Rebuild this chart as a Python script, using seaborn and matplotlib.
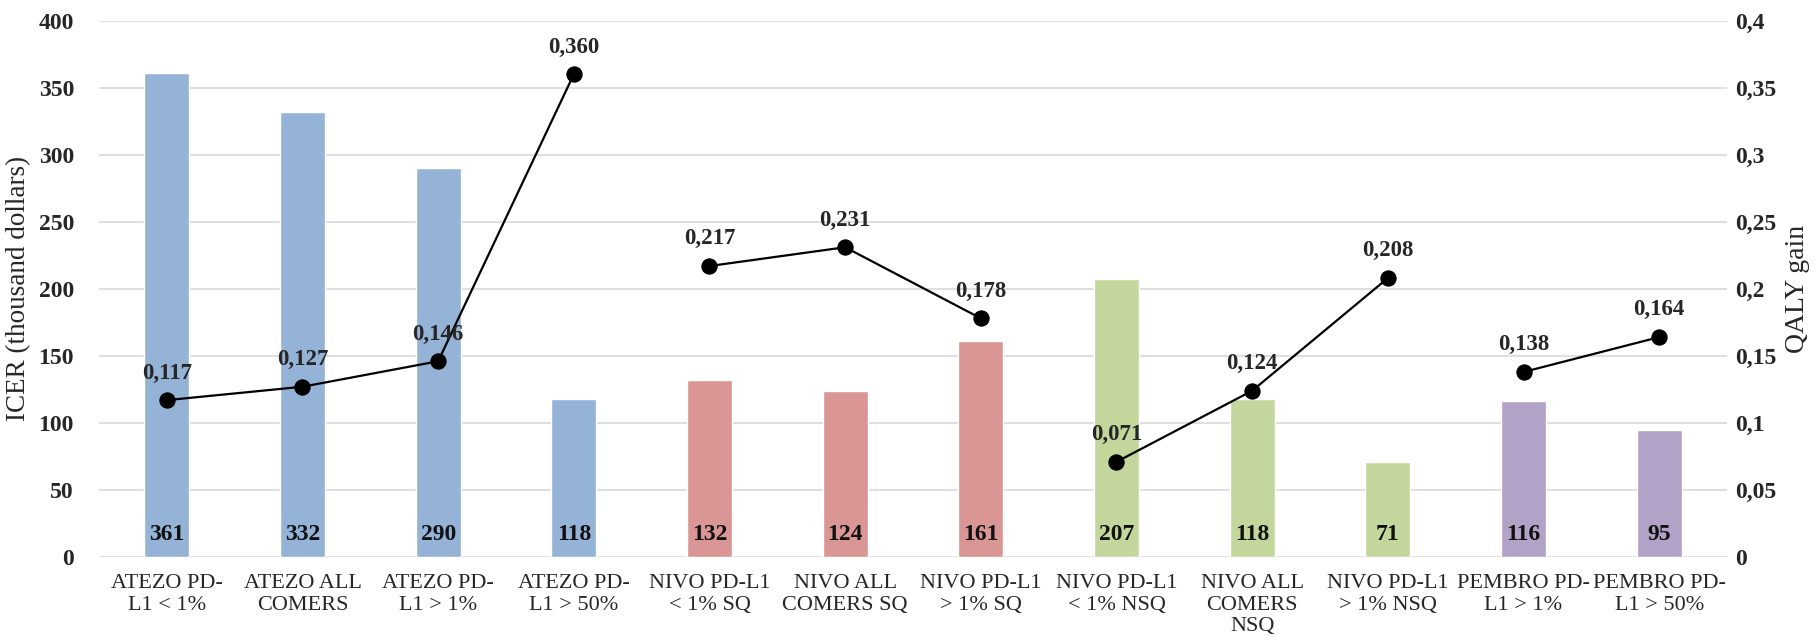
import matplotlib
matplotlib.use("Agg")
import matplotlib.pyplot as plt
import seaborn as sns
import pandas as pd

categories = [
    "ATEZO PD-\nL1 < 1%", "ATEZO ALL\nCOMERS", "ATEZO PD-\nL1 > 1%", "ATEZO PD-\nL1 > 50%",
    "NIVO PD-L1\n< 1% SQ", "NIVO ALL\nCOMERS SQ", "NIVO PD-L1\n> 1% SQ",
    "NIVO PD-L1\n< 1% NSQ", "NIVO ALL\nCOMERS\nNSQ", "NIVO PD-L1\n> 1% NSQ",
    "PEMBRO PD-\nL1 > 1%", "PEMBRO PD-\nL1 > 50%",
]
groups = ["ATEZO"] * 4 + ["NIVO SQ"] * 3 + ["NIVO NSQ"] * 3 + ["PEMBRO"] * 2
icer = [361, 332, 290, 118, 132, 124, 161, 207, 118, 71, 116, 95]
qaly = [0.117, 0.127, 0.146, 0.360, 0.217, 0.231, 0.178, 0.071, 0.124, 0.208, 0.138, 0.164]
group_colors = {"ATEZO": "#95B3D7", "NIVO SQ": "#D99694", "NIVO NSQ": "#C3D69B", "PEMBRO": "#B3A2C7"}

df = pd.DataFrame({"cat": categories, "group": groups, "icer": icer, "qaly": qaly})
df["pos"] = range(len(df))

sns.set_style("white")
plt.rcParams["font.family"] = ["Liberation Serif", "DejaVu Serif"]

fig = plt.figure(figsize=(18.16, 6.44), dpi=100)
ax = fig.add_axes([0.0545, 0.135, 0.8965, 0.833])

sns.barplot(data=df, x="cat", y="icer", hue="group", palette=group_colors,
            dodge=False, width=0.33, legend=False, ax=ax, saturation=1)

ax.set_ylim(0, 400)
ax.set_yticks(range(0, 401, 50))
ax.set_yticklabels([str(v) for v in range(0, 401, 50)], fontsize=17, fontweight="bold")
ax.set_xlim(-0.5, len(categories) - 0.5)
ax.set_xlabel("")
ax.set_ylabel("ICER (thousand dollars)", fontsize=19.5, labelpad=5)
ax.tick_params(axis="x", labelsize=16, length=0, pad=12)
ax.tick_params(axis="y", length=0, pad=18)
ax.yaxis.grid(True, color="#D9D9D9", linewidth=1.2)
ax.set_axisbelow(True)
for s in ax.spines.values():
    s.set_visible(False)

for i, v in enumerate(icer):
    ax.text(i, 17, str(v), ha="center", va="center", fontsize=17, fontweight="bold", color="#111111")

ax2 = ax.twinx()
for g in group_colors:
    sub = df[df["group"] == g]
    sns.lineplot(data=sub, x="pos", y="qaly", ax=ax2, color="black", linewidth=1.6,
                 marker="o", markersize=11, markeredgecolor="black", legend=False)
for i, v in enumerate(qaly):
    ax2.annotate(f"{v:.3f}".replace(".", ","), (i, v), xytext=(0, 12), textcoords="offset points",
                 ha="center", va="bottom", fontsize=16.5, fontweight="bold")

ax2.set_ylim(0, 0.4)
ticks2 = [0, 0.05, 0.1, 0.15, 0.2, 0.25, 0.3, 0.35, 0.4]
ax2.set_yticks(ticks2)
ax2.set_yticklabels(["0"] + [f"{t:g}".replace(".", ",") for t in ticks2[1:]], fontsize=17, fontweight="bold")
ax2.tick_params(axis="y", length=0, pad=6)
ax2.set_ylabel("QALY gain", fontsize=20, labelpad=6)
ax2.set_xlabel("")
ax2.set_xlim(-0.5, len(categories) - 0.5)
for s in ax2.spines.values():
    s.set_visible(False)

fig.savefig("out.png", dpi=100)
